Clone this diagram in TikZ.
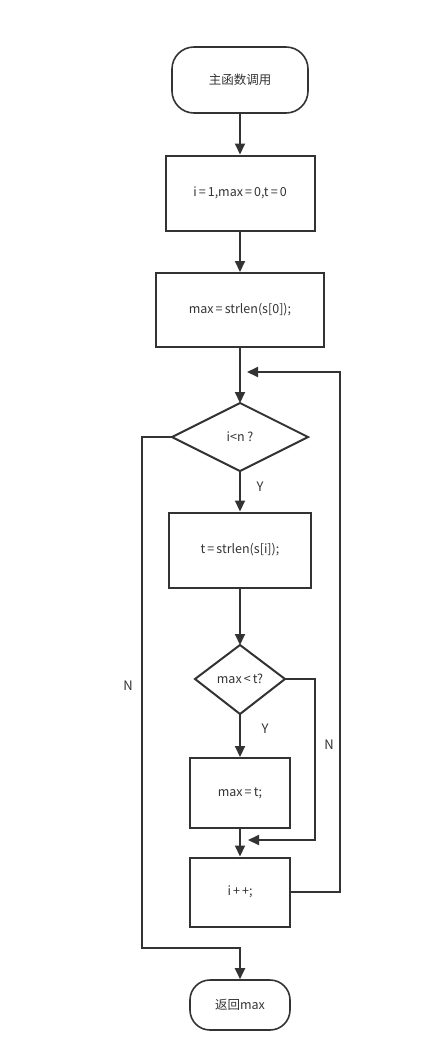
\documentclass[tikz,border=0pt]{standalone}
\usepackage{fontspec}
\setmainfont{Noto Sans CJK SC}
\usetikzlibrary{arrows.meta,shapes.geometric}
\definecolor{ink}{HTML}{333333}
\newcommand{\eqs}{\,=\,}
\begin{document}
\begin{tikzpicture}[x=1pt,y=-1pt,
  every node/.style={font=\fontsize{12.5}{14}\selectfont, text=ink},
  proc/.style={draw=ink, line width=2pt, rectangle, inner sep=0pt},
  term/.style={draw=ink, line width=1.6pt, rectangle, rounded corners=22pt, inner sep=0pt},
  conn/.style={draw=ink, line width=2pt, -{Triangle[length=11pt,width=10pt]}},
  lab/.style={font=\fontsize{13}{15}\selectfont}
]
\useasboundingbox (0,0) rectangle (441,1061);
\node[term, minimum width=136pt, minimum height=66pt] (start) at (240,80) {主函数调用};
\node[proc, minimum width=149pt, minimum height=75pt] (init) at (240,193) {i\eqs 1,max\eqs 0,t\eqs 0};
\node[proc, minimum width=168pt, minimum height=74pt] (max0) at (240,310) {max\eqs strlen(s[0]);};
\coordinate (d1t) at (240,403);
\draw[draw=ink, line width=2pt, fill=white] (172,437) -- (240,403) -- (308,437) -- (240,471) -- cycle;
\node (d1) at (240,437) {i<n ?};
\coordinate (d1l) at (172,437);
\coordinate (d1b) at (240,471);
\node[proc, minimum width=142pt, minimum height=75pt] (tlen) at (240,550) {t\eqs strlen(s[i]);};
\draw[draw=ink, line width=2pt] (195,679) -- (240,645) -- (285,679) -- (240,714) -- cycle;
\node (d2) at (240,679) {max\,<\,t?};
\coordinate (d2t) at (240,645);
\coordinate (d2r) at (285,679);
\coordinate (d2b) at (240,714);
\node[proc, minimum width=100pt, minimum height=70pt] (setmax) at (240,793) {max\eqs t;};
\node[proc, minimum width=100pt, minimum height=69pt] (inc) at (240,892) {i\,+\,+;};
\node[term, minimum width=100pt, minimum height=50pt, rounded corners=20pt] (end) at (240,1005) {返回max};
\coordinate (loopin) at (247,372);
\coordinate (joinin) at (248,840);

\draw[conn] (start) -- (init);
\draw[conn] (init) -- (max0);
\draw[conn] (max0) -- (d1t);
\draw[conn] (d1b) -- (tlen);
\draw[conn] (tlen) -- (d2t);
\draw[conn] (d2b) -- (setmax);
\draw[conn] (setmax) -- (inc);
\draw[conn] (inc.east) -- (340,892) -- (340,372) -- (loopin);
\draw[conn] (d2r) -- (315,679) -- (315,840) -- (joinin);
\draw[conn] (d1l) -- (142,437) -- (142,948) -- (240,948) -- (end);

\node[lab] (y1) at (260,487) {Y};
\node[lab] (y2) at (265,729) {Y};
\node[lab] (n2) at (329,745) {N};
\node[lab] (n1) at (128,686) {N};
\end{tikzpicture}
\end{document}
